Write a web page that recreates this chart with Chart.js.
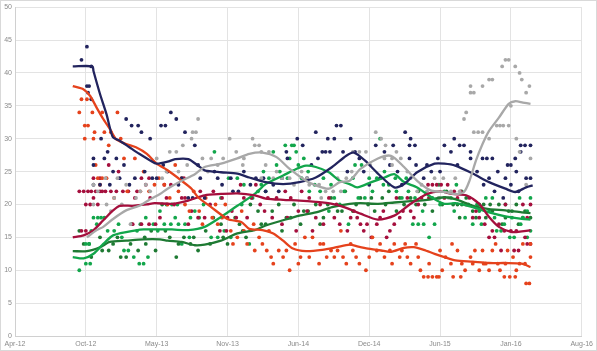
<!DOCTYPE html>
<html><head><meta charset="utf-8">
<script src="https://cdn.jsdelivr.net/npm/chart.js@4"></script>
<style>html,body{margin:0;padding:0;background:#fff}canvas{display:block}</style>
</head><body>
<canvas id="c" width="597" height="351"></canvas>
<script>
// x values are months since Apr 2012
const xTickLabels = ['Apr-12','Oct-12','May-13','Nov-13','Jun-14','Dec-14','Jun-15','Jan-16','Aug-16'];
const yTicks = [0,5,10,15,20,25,30,35,40,45,50];

const navyLine = [[5.3,41],[7.1,41],[7.2,40.3],[7.8,36.8],[8.4,33.7],[8.7,31.7],[9.0,30.2],[9.6,29.7],[10.5,28.7],[11.4,27.7],[12.4,26.7],[13.0,26.2],[14.0,26.5],[14.7,26.9],[15.9,26.9],[16.8,25.9],[17.4,25.2],[18.9,24.9],[20.4,24.7],[21.5,24.1],[23.0,23.4],[24.6,23.1],[26.1,23.4],[27.6,24.1],[29.1,25.7],[30.4,27.4],[31.1,27.9],[32.1,26.7],[33.3,24.7],[34.8,22.6],[35.7,23.1],[36.9,24.9],[38.5,26.2],[39.4,26.2],[40.4,25.9],[42.0,24.7],[43.5,23.4],[45.0,22.4],[45.9,21.9],[46.9,22.6],[47.5,22.9]];
const redLine = [[5.3,38],[6.3,37.5],[6.9,36.5],[7.5,34.7],[8.1,33],[8.7,31.5],[9.3,29.9],[10.2,29.2],[11.1,28.7],[12.1,27.7],[13.0,26.2],[14.0,25.2],[15.3,23.6],[16.2,22.4],[16.8,21.1],[18.0,19.6],[19.5,17.8],[20.8,17.3],[21.5,16.3],[22.7,16.1],[23.7,15.6],[24.6,14.5],[25.5,13.3],[26.7,12.9],[28.2,13.1],[29.5,13.5],[30.7,13.9],[31.5,13.6],[32.4,13.3],[33.6,13.0],[34.5,12.8],[35.7,13.4],[36.6,13.5],[37.5,13.1],[38.5,12.5],[39.4,12.0],[40.4,11.5],[42.0,11.3],[43.5,11.1],[45.0,11.1],[46.5,11.0],[47.3,10.5]];
const crimsonLine = [[5.3,15],[6.3,15.3],[7.2,16.1],[8.1,17.6],[9.0,19.1],[9.6,19.8],[10.8,19.8],[12.1,20],[12.8,20.2],[14.4,20.1],[15.9,20.6],[17.4,21.4],[18.9,21.6],[20.4,21.7],[22.0,21.4],[23.0,20.9],[24.6,20.7],[26.1,20.6],[27.6,20.4],[29.1,20.1],[30.2,19.6],[31.7,18.6],[33.3,17.7],[34.8,18.3],[36.3,20.1],[37.8,21.6],[39.0,22.0],[40.1,21.6],[41.4,21.4],[42.6,20.1],[43.5,18.1],[44.4,16.6],[45.6,15.8],[46.5,15.9],[47.3,16.1]];
const grayLine = [[6.6,15],[7.5,16.1],[8.1,16.6],[9.0,17.8],[10.2,19.1],[11.4,19.8],[12.4,20.8],[13.3,21.6],[14.0,22.4],[15.3,23.6],[16.5,24.6],[17.4,25.7],[18.9,26.2],[20.4,27.0],[21.5,27.7],[22.7,27.9],[24.0,27.2],[25.2,25.4],[26.7,23.6],[27.6,22.9],[28.8,22.4],[29.8,23.4],[30.7,23.6],[31.7,25.4],[33.3,27.0],[34.5,27.4],[35.7,25.7],[36.9,23.6],[38.2,22.1],[39.4,21.9],[40.4,21.6],[41.2,21.9],[41.7,23.6],[42.3,26.7],[42.9,29.2],[43.5,31.2],[44.4,33.2],[45.3,35.3],[45.9,35.7],[46.6,35.5],[47.3,35.3]];
const greenLine = [[5.3,12],[6.3,11.8],[7.2,12.5],[8.1,14],[9.0,15.3],[10.2,15.8],[11.8,16.2],[13.3,16.2],[14.4,16.2],[15.9,16.1],[17.4,16.6],[18.9,18.1],[20.4,19.8],[22.0,21.6],[23.0,23.1],[24.6,24.4],[25.8,25.4],[26.7,25.9],[27.6,25.7],[28.8,24.9],[29.8,23.6],[30.7,23.1],[31.4,22.6],[32.7,23.4],[33.9,24.1],[34.8,24.6],[35.7,23.4],[36.9,22.6],[38.2,21.1],[39.4,20.1],[40.4,20.2],[42.0,19.6],[43.5,18.8],[45.0,18.2],[46.5,17.8],[47.3,17.7]];
const darkGreenLine = [[5.3,12.9],[6.6,12.9],[7.8,13.5],[8.7,14.3],[10.2,14.5],[11.8,14.7],[13.3,14.7],[14.0,14.5],[15.3,14.3],[16.5,13.8],[17.4,13.9],[18.9,14.5],[20.4,15.6],[22.0,16.1],[23.0,16.8],[24.6,17.6],[26.1,18.3],[27.6,18.8],[29.1,19.6],[30.7,20.1],[31.7,20.2],[33.3,20.1],[34.8,20.3],[36.3,20.5],[37.8,20.7],[39.4,21.1],[40.4,20.8],[42.0,19.8],[43.5,19.3],[45.0,19.1],[46.5,18.8],[47.3,18.7]];

const navyDots = [[6.6,44],[6.1,42],[7.0,41],[6.6,38],[6.8,38],[6.7,37],[7.0,36],[7.2,27],[7.2,26],[7.2,23],[7.8,23],[8.7,23],[7.9,30],[8.5,28],[10.2,33],[10.7,32],[11.3,32],[11.6,31],[12.4,30],[9.0,25],[9.6,24],[10.5,23],[11.0,24],[11.9,25],[12.6,24],[13.4,32],[13.8,32],[14.3,34],[14.8,33],[15.6,31],[16.5,29],[13.0,24],[14.0,25],[15.0,23],[15.9,21],[16.3,21],[17.4,21],[17.0,24],[18.3,25],[19.0,23],[19.8,24],[20.5,22],[21.0,25],[22.1,24],[23.0,22],[23.7,23],[24.5,24],[24.9,28],[25.0,27],[25.9,30],[26.4,29],[27.6,31],[27.8,27],[28.2,28],[28.5,28],[28.9,28],[28.7,30],[29.3,30],[29.5,32],[29.9,32],[30.1,28],[30.8,30],[31.2,28],[32.0,25],[33.1,29],[33.9,28],[34.4,26],[34.7,29],[35.1,25],[35.8,31],[36.2,27],[36.3,30],[36.2,29],[36.7,29],[36.8,26],[37.5,24],[38.2,25],[38.8,27],[39.4,29],[40.0,28],[40.3,30],[40.8,29],[41.2,29],[41.8,28],[41.8,27],[42.9,27],[43.3,27],[43.5,24],[43.8,27],[44.3,25],[44.8,21],[45.2,26],[45.5,26],[45.9,27],[46.0,25],[46.4,29],[46.4,28],[46.8,29],[46.9,24],[47.3,29],[47.3,24],[45.5,23],[46.2,22],
  [8.2,27],[9.3,27],[10.0,26],[13.6,26],[15.3,24],[16.8,26],[18.6,24],[20.0,22],[21.6,23],[22.8,24],[24.2,22],[26.8,24],[27.2,26],[30.5,25],[31.6,27],[32.5,23],[33.5,24],[35.5,23],[37.8,26],[39.0,25],[40.6,26],[42.4,25],[43.0,23],[44.0,22],[45.0,24]];
const redDots = [[5.9,34],[6.1,36],[6.6,36],[6.4,32],[6.7,32],[7.1,34],[7.3,31],[7.2,30],[6.4,30],[7.6,24],[8.0,24],[8.4,24],[7.8,23],[8.0,34],[8.2,31],[8.6,29],[8.8,31],[9.4,34],[9.7,30],[10.0,27],[11.0,27],[11.8,25],[12.3,22],[7.4,26],[9.1,21],[10.3,22],[11.5,22],[12.8,23],[13.7,23],[14.2,21],[14.7,26],[15.3,24],[15.6,20],[16.4,22],[16.9,19],[17.5,21],[18.1,18],[18.6,17],[19.3,20],[19.8,16],[20.4,15],[20.8,19],[21.3,14],[21.9,17],[22.4,15],[22.7,14],[23.1,13],[23.5,12],[23.7,11],[24.2,13],[24.6,12],[25.2,10],[25.7,14],[26.2,12],[26.6,15],[27.3,15],[27.9,11],[28.3,14],[28.6,12],[29.0,13],[29.6,13],[29.9,16],[30.4,11],[30.8,14],[31.3,12],[31.6,11],[32.2,10],[32.8,15],[33.5,14],[33.9,12],[34.4,13],[34.8,14],[35.3,12],[35.8,14],[36.3,11],[36.8,14],[37.2,10],[37.5,9],[37.9,9],[38.3,9],[38.7,9],[38.9,9],[39.0,13],[39.5,12],[40.1,14],[40.2,9],[40.6,13],[40.9,9],[41.3,10],[41.8,12],[42.2,13],[42.6,10],[42.9,13],[43.2,11],[43.5,10],[43.8,13],[44.1,14],[44.5,10],[44.9,9],[45.2,13],[45.4,9],[45.7,12],[45.9,9],[46.3,11],[46.6,14],[46.9,8],[47.2,8],[47.3,14],[47.3,12],
  [13.2,24],[14.0,20],[15.0,22],[16.0,19],[17.2,17],[18.4,20],[19.0,18],[20.0,14],[21.0,16],[22.0,13],[23.3,16],[24.9,13],[26.0,11],[27.0,12],[28.0,14],[29.3,12],[30.1,12],[31.0,13],[32.5,12],[33.2,13],[34.6,11],[35.5,13],[36.0,12],[37.0,12],[38.0,11],[39.2,10],[40.0,11],[41.0,11],[42.0,11],[43.0,11],[44.3,11],[45.0,11],[46.0,10],[46.8,11]];
const crimsonDots = [[5.9,22],[6.3,22],[6.7,22],[7.0,22],[7.4,22],[7.8,22],[8.3,22],[7.2,24],[7.8,24],[7.2,21],[6.5,20],[6.1,16],[6.5,16],[8.6,26],[9.5,25],[10.8,17],[11.6,17],[12.3,17],[12.9,17],[11.2,22],[12.0,23],[12.3,24],[11.6,24],[12.4,21],[13.3,18],[13.7,23],[14.3,23],[15.5,24],[15.3,21],[15.6,21],[16.8,18],[17.4,18],[15.9,17],[18.2,22],[18.8,16],[19.4,16],[19.5,18],[20.3,18],[21.0,21],[21.3,18],[21.7,21],[22.1,23],[22.5,20],[23.2,21],[23.6,18],[24.0,21],[24.5,17],[25.0,18],[25.3,21],[25.8,16],[26.3,22],[26.8,19],[27.3,16],[27.6,18],[28.3,17],[28.8,21],[29.3,18],[29.8,17],[30.5,16],[31.1,19],[31.4,18],[31.7,17],[32.3,17],[32.7,15],[33.2,17],[33.8,19],[34.4,16],[34.8,17],[35.0,21],[35.6,19],[36.0,21],[36.6,18],[37.3,21],[37.9,23],[38.3,23],[38.7,23],[39.1,23],[39.7,23],[40.3,22],[40.9,22],[41.4,20],[42.0,18],[42.6,18],[43.1,17],[43.5,15],[44.0,15],[44.4,17],[44.9,16],[45.5,16],[45.8,13],[46.2,13],[46.6,20],[47.0,18],[47.3,20],[47.0,14],[47.3,14],[45.0,20],
  [6.9,20],[7.6,20],[8.0,22],[8.8,22],[9.3,22],[9.9,22],[10.4,22],[11.0,21],[13.9,21],[14.6,20],[16.2,19],[17.0,22],[17.9,20],[19.0,21],[19.9,19],[20.7,23],[22.9,19],[24.8,22],[26.0,19],[27.0,21],[28.0,20],[29.5,20],[30.8,18],[32.0,16],[33.5,18],[34.1,15],[35.3,18],[36.3,19],[37.0,20],[38.0,21],[39.4,21],[40.6,21],[41.7,21],[42.3,19],[43.8,16],[44.6,13],[46.0,16],[46.8,15]];
const grayDots = [[7.2,23],[7.6,22],[8.3,24],[9.4,24],[7.2,20],[8.4,20],[9.1,21],[10.6,17],[11.5,22],[12.4,22],[13.0,27],[13.5,24],[14.2,28],[14.8,28],[15.4,29],[16.3,31],[16.8,33],[16.6,31],[15.8,26],[16.2,30],[17.2,27],[18.0,27],[18.6,26],[19.7,30],[20.3,28],[21.0,27],[21.8,30],[22.0,29],[22.4,29],[22.6,28],[23.3,28],[22.6,24],[23.7,24],[24.5,24],[25.2,24],[26.3,25],[27.0,23],[27.9,23],[28.5,22],[29.2,22],[29.9,22],[30.4,24],[31.0,28],[31.6,28],[32.2,28],[33.1,31],[33.6,30],[34.0,29],[34.6,27],[35.4,27],[34.6,26],[36.0,25],[36.9,22],[37.8,22],[38.5,24],[39.3,24],[40.0,22],[40.4,24],[41.4,34],[41.2,33],[41.8,38],[41.8,37],[42.1,37],[42.1,31],[42.5,31],[42.9,31],[42.9,38],[43.5,39],[43.8,39],[43.5,30],[44.2,32],[44.5,32],[44.7,41],[44.8,32],[45.0,42],[45.3,42],[45.3,32],[45.5,35],[45.9,41],[46.0,30],[46.3,40],[46.5,39],[46.3,28],[46.9,37],[47.2,38],[47.3,27],[46.9,23],
  [8.8,19],[9.8,20],[10.2,23],[11.1,21],[12.0,23],[13.9,25],[15.0,25],[17.7,25],[19.1,27],[20.9,26],[23.0,26],[24.0,25],[25.6,23],[26.8,24],[28.1,21],[29.6,24],[30.9,25],[32.6,26],[33.9,27],[35.0,28],[36.3,24],[37.3,23],[38.9,21],[39.8,21],[40.8,22]];
const greenDots = [[5.9,10],[6.5,11],[6.9,11],[6.5,14],[6.8,14],[7.2,18],[7.6,18],[7.9,18],[8.2,18],[7.5,17],[9.5,17],[10.7,17],[11.5,17],[9.1,16],[10.0,13],[10.4,13],[10.9,12],[11.4,11],[11.8,11],[12.2,12],[12.7,17],[13.1,16],[13.9,20],[14.4,20],[14.9,20],[13.7,17],[14.3,17],[15.0,17],[15.6,17],[16.1,18],[16.9,18],[15.3,14],[16.0,15],[18.0,15],[18.3,28],[18.6,15],[19.2,16],[19.8,15],[20.4,24],[21.0,23],[21.5,14],[22.6,23],[22.3,22],[23.0,22],[23.7,28],[24.0,26],[24.8,29],[25.2,27],[25.4,29],[25.6,29],[25.8,28],[26.5,27],[26.3,24],[27.0,22],[28.0,22],[28.8,19],[29.3,21],[29.8,20],[30.6,17],[31.2,26],[31.8,26],[31.5,21],[32.1,21],[32.5,24],[33.2,24],[33.5,30],[33.8,23],[34.3,23],[34.9,24],[35.5,21],[36.1,22],[36.5,17],[37.0,17],[37.5,17],[38.0,15],[38.5,17],[38.9,23],[39.4,22],[40.0,21],[40.5,23],[41.0,22],[41.6,20],[42.0,17],[42.4,20],[42.8,17],[43.2,21],[43.8,21],[44.2,16],[44.6,16],[45.0,20],[45.4,15],[45.8,15],[46.3,21],[46.6,18],[47.0,15],[47.3,21],[47.3,16],
  [7.0,16],[8.5,16],[9.8,15],[11.2,16],[12.0,18],[13.3,19],[14.7,18],[16.5,19],[17.3,20],[18.9,21],[19.6,24],[20.8,20],[21.8,21],[22.8,25],[23.3,24],[24.3,25],[25.0,24],[26.0,26],[26.9,25],[27.5,23],[28.3,24],[29.0,23],[30.2,22],[31.0,24],[32.8,22],[33.9,25],[35.0,22],[35.9,24],[36.7,21],[37.4,19],[38.3,21],[39.0,20],[40.3,19],[41.3,18],[42.6,19],[43.5,19],[44.0,18],[44.9,17],[45.6,18],[46.4,17],[47.0,19]];
const darkGreenDots = [[5.9,16],[6.3,14],[6.8,14],[7.8,15],[8.6,13],[9.0,14],[9.7,12],[10.2,12],[11.3,13],[11.9,15],[12.5,16],[13.5,20],[14.2,15],[14.8,12],[15.5,15],[16.1,14],[16.8,13],[17.5,16],[18.2,18],[18.9,17],[19.5,14],[20.2,18],[20.9,16],[21.6,20],[22.3,19],[23.0,17],[23.6,19],[24.2,20],[24.9,18],[25.6,20],[26.2,17],[26.9,19],[27.6,20],[28.3,18],[29.0,21],[29.6,19],[30.3,22],[31.0,19],[31.7,21],[32.4,20],[33.0,19],[33.7,21],[34.3,22],[35.0,19],[35.7,20],[36.3,21],[37.0,22],[37.6,20],[38.3,19],[38.9,21],[39.6,22],[40.2,20],[40.8,18],[41.4,21],[42.0,19],[42.6,20],[43.2,18],[43.8,19],[44.4,20],[45.0,18],[45.6,19],[46.2,17],[46.8,19],[47.3,18],[40.6,20],[43.0,20],[44.7,17],[46.0,20],
  [7.0,12],[8.0,13],[9.4,15],[10.6,14],[12.0,14],[12.9,13],[13.8,16],[15.0,14],[16.4,15],[17.9,14],[19.1,15],[20.6,17],[21.2,15],[22.6,17],[24.5,16],[25.3,18],[26.5,19],[28.0,17],[28.7,20],[30.0,19],[31.3,20],[32.7,21],[34.0,20],[35.3,21],[36.8,20],[38.0,21],[39.2,20],[41.0,20],[42.3,18],[43.6,20],[45.3,19],[46.6,18]];

const C = {navy:'#22245E', red:'#E5421C', crimson:'#A50F3D', gray:'#A8A8A8', green:'#12A64B', dgreen:'#1E7A33'};
const xy = a => a.map(([x,y]) => ({x, y}));
const dots = (d, c) => ({data: xy(d), showLine: false, pointRadius: 1.9, pointHoverRadius: 1.9, pointBackgroundColor: c, pointBorderWidth: 0, borderColor: c, order: 2});
const line = (d, c) => ({data: xy(d), showLine: true, pointRadius: 0, borderColor: c, borderWidth: 2.3, tension: 0.25, fill: false, order: 1});

const framePlugin = {
  id: 'frame',
  afterDraw(chart) {
    const ctx = chart.ctx;
    ctx.save();
    ctx.strokeStyle = '#d9d9d9';
    ctx.lineWidth = 1;
    ctx.strokeRect(0.5, 0.5, chart.width - 1, chart.height - 1);
    ctx.restore();
  }
};

new Chart(document.getElementById('c'), {
  type: 'scatter',
  data: {
    datasets: [
      dots(grayDots, C.gray), dots(navyDots, C.navy), dots(redDots, C.red), dots(crimsonDots, C.crimson), dots(greenDots, C.green), dots(darkGreenDots, C.dgreen),
      line(grayLine, C.gray), line(navyLine, C.navy), line(redLine, C.red), line(crimsonLine, C.crimson), line(greenLine, C.green), line(darkGreenLine, C.dgreen)
    ]
  },
  options: {
    responsive: false, animation: false, devicePixelRatio: 1,
    layout: {padding: {left: 0, right: 14, top: 6, bottom: 0}},
    plugins: {legend: {display: false}, tooltip: {enabled: false}},
    scales: {
      x: {
        type: 'linear', min: 0, max: 52,
        afterBuildTicks: s => { s.ticks = xTickLabels.map((_, i) => ({value: i * 6.5})); },
        afterFit: s => { s.height = 15; },
        grid: {color: '#e3e3e3', drawTicks: false},
        border: {color: '#d0d0d0'},
        ticks: {padding: 4, maxRotation: 0, autoSkip: false, color: '#8a8a8a', font: {family: 'Liberation Sans', size: 7},
          callback: (v, i) => xTickLabels[i]}
      },
      y: {
        type: 'linear', min: 0, max: 50,
        afterBuildTicks: s => { s.ticks = yTicks.map(v => ({value: v})); },
        afterFit: s => { s.width = 15; },
        grid: {color: '#e3e3e3', drawTicks: false},
        border: {color: '#d0d0d0'},
        ticks: {padding: 3, color: '#8a8a8a', font: {family: 'Liberation Sans', size: 7}}
      }
    }
  },
  plugins: [framePlugin]
});
</script></body></html>
